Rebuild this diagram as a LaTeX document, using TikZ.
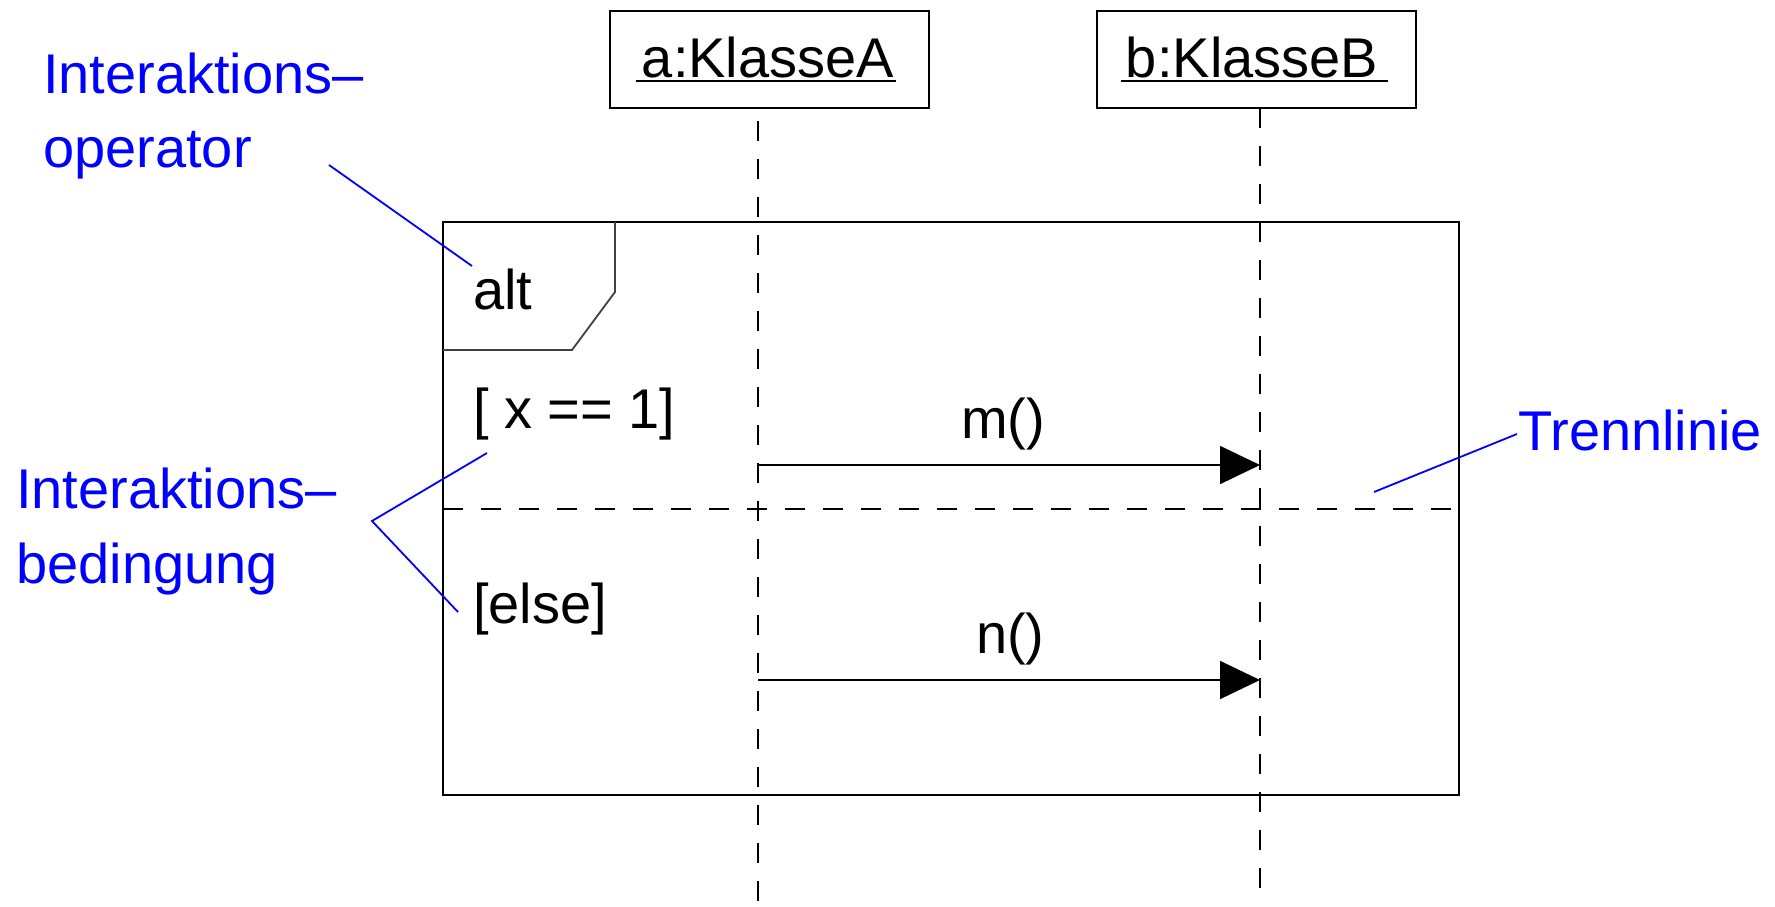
\documentclass[tikz,border=0pt]{standalone}
\usepackage{fontspec}
\setmainfont{Liberation Sans}
\usetikzlibrary{arrows.meta}
\begin{document}
\begin{tikzpicture}[x=1pt,y=-1pt,
  lbl/.style={font=\fontsize{56}{56}\selectfont, inner sep=0pt, anchor=base west},
  note/.style={lbl, text=blue},
  obj/.style={draw, line width=1.8pt, minimum width=319pt, minimum height=97pt, inner sep=0pt},
  life/.style={line width=1.8pt, dash pattern=on 20pt off 18pt},
  sep/.style={line width=1.8pt, dash pattern=on 20pt off 18pt},
  msg/.style={line width=1.8pt, -{Triangle[length=40pt,width=38pt]}},
  frm/.style={draw, line width=1.8pt, minimum width=1016pt, minimum height=573pt, inner sep=0pt},
  tab/.style={line width=1.8pt, draw=black!75},
  lead/.style={blue, line width=1.8pt},
  uline/.style={line width=1.6pt}]
\useasboundingbox (0,0) rectangle (1775,906);

% object boxes
\node[obj] (A) at (769.5,59.5) {};
\node[obj] (B) at (1256.5,59.5) {};
\node[lbl, anchor=base] (At) at (768,77) {a:KlasseA};
\node[lbl, anchor=base] (Bt) at (1252,77) {b:KlasseB};
\draw[uline] ([xshift=-6pt,yshift=-4pt]At.base west) -- ([xshift=2pt,yshift=-4pt]At.base east);
\draw[uline] ([xshift=-5pt,yshift=-4pt]Bt.base west) -- ([xshift=10pt,yshift=-4pt]Bt.base east);

% combined fragment
\node[frm] (F) at (951,508.5) {};
\coordinate (t1) at (615,292);
\coordinate (t2) at (572,350);
\draw[tab] (615,222) -- (t1) -- (t2) -- (443,350);
\node[lbl] (alt) at (473,309) {alt};
\node[lbl] (g1) at (473,428) {[ x == 1]};
\node[lbl] (g2) at (473,623) {[else]};

% separator
\coordinate (s0) at (443,509);
\coordinate (s1) at (1459,509);
\draw[sep] (s0) -- (s1);

% lifelines
\coordinate (la0) at (758,121);
\coordinate (la1) at (758,906);
\coordinate (lb0) at (1260,108);
\coordinate (lb1) at (1260,891);
\draw[life] (la0) -- (la1);
\draw[life] (lb0) -- (lb1);

% messages
\coordinate (m1a) at (758,465);
\coordinate (m1b) at (1260,465);
\coordinate (m2a) at (758,680);
\coordinate (m2b) at (1260,680);
\draw[msg] (m1a) -- (m1b);
\draw[msg] (m2a) -- (m2b);
\node[lbl] (mt) at (961,438) {m()};
\node[lbl] (nt) at (976,653) {n()};

% annotations
\node[note] (n1a) at (43,93) {Interaktions–};
\node[note] (n1b) at (43,167) {operator};
\node[note] (n2a) at (16,508) {Interaktions–};
\node[note] (n2b) at (16,583) {bedingung};
\node[note] (n3) at (1518,450) {Trennlinie};

\coordinate (o0) at (329,165);
\coordinate (o1) at (472,266);
\draw[lead] (o0) -- (o1);
\coordinate (b0) at (487,453);
\coordinate (bv) at (372,521);
\coordinate (b1) at (458,612);
\draw[lead] (b0) -- (bv) -- (b1);
\coordinate (tr0) at (1374,492);
\coordinate (tr1) at (1517,434);
\draw[lead] (tr0) -- (tr1);
\end{tikzpicture}
\end{document}
